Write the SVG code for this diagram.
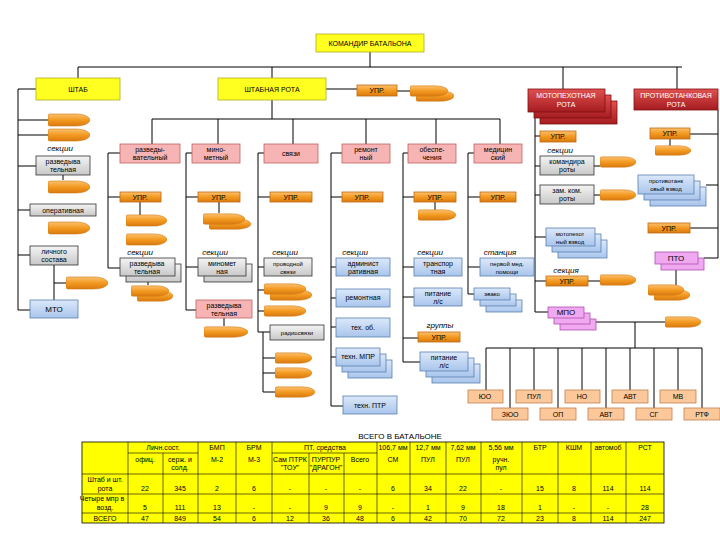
<svg xmlns="http://www.w3.org/2000/svg" width="720" height="540" viewBox="0 0 720 540">
<defs>
<linearGradient id="og" x1="0" y1="0" x2="0" y2="1"><stop offset="0" stop-color="#fcc070"/><stop offset="0.5" stop-color="#f39a20"/><stop offset="1" stop-color="#d97a10"/></linearGradient>
<linearGradient id="gg" x1="0" y1="0" x2="0" y2="1"><stop offset="0" stop-color="#f4f4f4"/><stop offset="1" stop-color="#c8c8c8"/></linearGradient>
<linearGradient id="bg" x1="0" y1="0" x2="0" y2="1"><stop offset="0" stop-color="#dbe8fa"/><stop offset="1" stop-color="#a9c5ec"/></linearGradient>
<linearGradient id="rg" x1="0" y1="0" x2="0" y2="1"><stop offset="0" stop-color="#e05050"/><stop offset="1" stop-color="#a51c20"/></linearGradient>
<symbol id="bl" viewBox="0 0 42 14" preserveAspectRatio="none"><path d="M2,1 H28 C38,1 42,5 42,7 C42,9 38,13 28,13 H2 Q0,13 0,11 V3 Q0,1 2,1Z" fill="url(#og)" stroke="#d07a15" stroke-width="0.6"/></symbol>
</defs>
<style>
text{font-family:"Liberation Sans",Arial,sans-serif;font-size:7px;text-anchor:middle;fill:#000}
.i{font-style:italic;font-size:8px}
.w{fill:#fff}
rect{stroke-width:0.8}
.y{fill:#ffff20;stroke:#b0b020}
.p{fill:#f7b4b4;stroke:#c06060}
.g{fill:url(#gg);stroke:#333}
.b{fill:url(#bg);stroke:#5a7fb0}
.r{fill:url(#rg);stroke:#801010}
.m{fill:#f0a8f0;stroke:#b050b0}
.o{fill:url(#og);stroke:#c06a10}
.t{fill:#fcc89a;stroke:#c08050}
.ln{fill:none;stroke:#000;stroke-width:1}
.tb{fill:#ffff00;stroke:#000;stroke-width:0.8}
.tl{stroke:#000;stroke-width:0.6}
</style>
<rect width="720" height="540" fill="#fff"/>
<g id="connectors" class="ln">
<path d="M370,52V67M78,67H682M78,67V78M272,67V78M563,67V89M677,67V89"/>
<path d="M36,89H18V310H30M18,120H48M18,135H48M18,166H36M18,210H30M18,255H30M63,175V180M54,265V300M54,283H66"/>
<path d="M326,89H357M397,91H410M272,100V119M152,119H500M152,119V144M218,119V144M293,119V144M366,119V144M436,119V144M500,119V144"/>
<path d="M120,153H108V268H120M108,197H120M140,202V215M148,276V285"/>
<path d="M192,153H186V310H196M186,197H198M186,267H198M219,202V213M224,318V326"/>
<path d="M264,153H258V332H270M258,197H270M258,267H264M258,290H264M258,311H264M263,332V392H275M263,358H275M263,373H275"/>
<path d="M342,153H331V406H343M331,197H342M331,267H336M331,298H336M331,327H336M331,357H336"/>
<path d="M408,153H403V362H420M403,197H414M403,267H414M403,297H414M403,338H418M435,202V210"/>
<path d="M474,153H468V294H474M468,197H480M468,267H480"/>
<path d="M540,112H535V312H548M535,136H540M535,166H540M535,195H540M535,237H546M535,281H546M594,166H600M594,195H600M588,281H600M596,322H665M635,322V348M486,348H702M486,348V390M534,348V390M582,348V390M630,348V390M678,348V390M510,348V408M558,348V408M606,348V408M654,348V408M702,348V408"/>
<path d="M718,110V258H704M690,134H718M690,228H718M706,185H718M670,139V150M676,264V285"/>
</g>
<g id="n-kombat"><rect class="y" x="316" y="34" width="108" height="18"/><text x="370" y="46">КОМАНДИР БАТАЛЬОНА</text></g>
<g id="n-shtab"><rect class="y" x="36" y="78" width="84" height="22"/><text x="78" y="92">ШТАБ</text></g>
<g id="n-shtabrota"><rect class="y" x="218" y="78" width="108" height="22"/><text x="272" y="92">ШТАБНАЯ РОТА</text></g>
<g id="n-upr0"><rect class="o" x="357" y="85" width="40" height="11"/><text x="377" y="93">УПР.</text><use href="#bl" x="416" y="90" width="38" height="12"/><use href="#bl" x="410" y="85" width="38" height="12"/></g>
<g id="n-mpr"><rect class="r" x="540" y="101" width="77" height="23"/><rect class="r" x="534" y="95" width="77" height="23"/><rect class="r" x="528" y="89" width="77" height="23"/><text class="w" x="566" y="98">МОТОПЕХОТНАЯ</text><text class="w" x="566" y="107">РОТА</text></g>
<g id="n-ptr"><rect class="r" x="634" y="89" width="84" height="21"/><text class="w" x="676" y="98">ПРОТИВОТАНКОВАЯ</text><text class="w" x="676" y="107">РОТА</text></g>
<g id="col0">
<use href="#bl" x="48" y="113" width="42" height="14"/><use href="#bl" x="48" y="128" width="42" height="14"/>
<text class="i" x="60" y="151">секции</text>
<rect class="g" x="36" y="156" width="54" height="19"/><text x="63" y="164">разведыва</text><text x="63" y="172">тельная</text>
<use href="#bl" x="48" y="180" width="42" height="14"/>
<rect class="g" x="30" y="204" width="66" height="12"/><text x="63" y="213">оперативная</text>
<use href="#bl" x="48" y="221" width="42" height="14"/>
<rect class="g" x="30" y="246" width="48" height="19"/><text x="54" y="254">личного</text><text x="54" y="262">состава</text>
<use href="#bl" x="66" y="276" width="42" height="14"/>
<rect class="b" x="30" y="300" width="48" height="18"/><text x="54" y="312" style="font-size:8px">МТО</text>
</g>
<g id="col1">
<rect class="p" x="120" y="144" width="60" height="19"/><text x="150" y="152">разведы-</text><text x="150" y="160">вательный</text>
<rect class="o" x="120" y="192" width="41" height="10"/><text x="140" y="200">УПР.</text>
<use href="#bl" x="126" y="214" width="41" height="13"/><use href="#bl" x="126" y="233" width="41" height="13"/>
<text class="i" x="140" y="255">секции</text>
<rect class="g" x="126" y="264" width="55" height="18"/><rect class="g" x="120" y="258" width="55" height="18"/><text x="147" y="266">разведыва</text><text x="147" y="274">тельная</text>
<use href="#bl" x="137" y="290" width="36" height="12"/><use href="#bl" x="131" y="285" width="38" height="12"/>
</g>
<g id="col2">
<rect class="p" x="192" y="144" width="48" height="19"/><text x="216" y="152">мино-</text><text x="216" y="160">метный</text>
<rect class="o" x="198" y="192" width="42" height="10"/><text x="219" y="200">УПР.</text>
<use href="#bl" x="209" y="218" width="42" height="12"/><use href="#bl" x="203" y="213" width="42" height="12"/>
<text class="i" x="215" y="255">секции</text>
<rect class="g" x="204" y="264" width="48" height="18"/><rect class="g" x="198" y="258" width="48" height="18"/><text x="222" y="266">миномет</text><text x="222" y="274">ная</text>
<rect class="p" x="196" y="300" width="56" height="18"/><text x="224" y="308">разведыва</text><text x="224" y="316">тельная</text>
<use href="#bl" x="204" y="326" width="44" height="12"/>
</g>
<g id="col3">
<rect class="p" x="264" y="144" width="54" height="19"/><text x="291" y="156">связи</text>
<rect class="o" x="270" y="192" width="42" height="10"/><text x="291" y="200">УПР.</text>
<text class="i" x="285" y="255">секции</text>
<rect class="g" x="264" y="258" width="48" height="18"/><text x="288" y="266" style="font-size:6px">проводной</text><text x="288" y="274" style="font-size:6px">связи</text>
<use href="#bl" x="270" y="289" width="42" height="12"/><use href="#bl" x="264" y="283" width="42" height="12"/>
<use href="#bl" x="264" y="305" width="42" height="12"/>
<rect class="g" x="270" y="325" width="54" height="15"/><text x="297" y="335" style="font-size:6px">радиосвязи</text>
<use href="#bl" x="275" y="352" width="37" height="12"/><use href="#bl" x="275" y="367" width="37" height="12"/><use href="#bl" x="275" y="386" width="40" height="12"/>
</g>
<g id="col4">
<rect class="p" x="342" y="144" width="48" height="19"/><text x="366" y="152">ремонт</text><text x="366" y="160">ный</text>
<rect class="o" x="342" y="192" width="41" height="10"/><text x="362" y="200">УПР.</text>
<text class="i" x="355" y="255">секции</text>
<rect class="b" x="336" y="258" width="54" height="18"/><text x="363" y="266">админист</text><text x="363" y="274">ративная</text>
<rect class="b" x="336" y="289" width="54" height="18"/><text x="363" y="300">ремонтная</text>
<rect class="b" x="336" y="318" width="54" height="19"/><text x="363" y="330">тех. об.</text>
<rect class="b" x="348" y="360" width="44" height="18"/><rect class="b" x="342" y="354" width="44" height="18"/><rect class="b" x="336" y="348" width="44" height="18"/><text x="358" y="359">техн. МПР</text>
<rect class="b" x="343" y="396" width="54" height="18"/><text x="370" y="408">техн. ПТР</text>
</g>
<g id="col5">
<rect class="p" x="408" y="144" width="48" height="19"/><text x="432" y="152">обеспе-</text><text x="432" y="160">чения</text>
<rect class="o" x="414" y="192" width="42" height="10"/><text x="435" y="200">УПР.</text>
<use href="#bl" x="418" y="209" width="38" height="12"/>
<text class="i" x="430" y="255">секции</text>
<rect class="b" x="414" y="258" width="48" height="18"/><text x="438" y="266">транспор</text><text x="438" y="274">тная</text>
<rect class="b" x="414" y="288" width="48" height="18"/><text x="438" y="296">питание</text><text x="438" y="304">л/с</text>
<text class="i" x="440" y="328">группы</text>
<rect class="o" x="418" y="332" width="42" height="10"/><text x="439" y="340">УПР.</text>
<rect class="b" x="432" y="364" width="48" height="19"/><rect class="b" x="426" y="358" width="48" height="19"/><rect class="b" x="420" y="352" width="48" height="19"/><text x="444" y="360">питание</text><text x="444" y="368">л/с</text>
</g>
<g id="col6">
<rect class="p" x="474" y="144" width="48" height="19"/><text x="498" y="152">медицин</text><text x="498" y="160">ский</text>
<rect class="o" x="480" y="192" width="36" height="10"/><text x="498" y="200">УПР.</text>
<text class="i" x="500" y="255">станция</text>
<rect class="b" x="480" y="258" width="54" height="18"/><text x="507" y="266" style="font-size:6px">первой мед.</text><text x="507" y="274" style="font-size:6px">помощи</text>
<rect class="b" x="486" y="300" width="36" height="12"/><rect class="b" x="480" y="294" width="36" height="12"/><rect class="b" x="474" y="288" width="36" height="12"/><text x="492" y="296" style="font-size:6px">эвако</text>
</g>
<g id="col-mpr">
<rect class="o" x="540" y="131" width="36" height="11"/><text x="558" y="139">УПР.</text>
<text class="i" x="560" y="153">секции</text>
<rect class="g" x="540" y="156" width="54" height="19"/><text x="567" y="164">командира</text><text x="567" y="172">роты</text>
<use href="#bl" x="600" y="156" width="36" height="12"/>
<rect class="g" x="540" y="185" width="54" height="19"/><text x="567" y="193">зам. ком.</text><text x="567" y="201">роты</text>
<use href="#bl" x="600" y="189" width="36" height="12"/>
<rect class="b" x="558" y="240" width="49" height="18"/><rect class="b" x="552" y="234" width="49" height="18"/><rect class="b" x="546" y="228" width="49" height="18"/><text x="570" y="236" style="font-size:6px">мотопехот</text><text x="570" y="244" style="font-size:6px">ный взвод</text>
<text class="i" x="566" y="273">секция</text>
<rect class="o" x="546" y="276" width="42" height="10"/><text x="567" y="284">УПР.</text>
<use href="#bl" x="600" y="274" width="36" height="12"/>
<rect class="m" x="560" y="319" width="36" height="11"/><rect class="m" x="554" y="313" width="36" height="11"/><rect class="m" x="548" y="307" width="36" height="11"/><text x="566" y="315" style="font-size:8px">МПО</text>
<use href="#bl" x="665" y="316" width="36" height="12"/>
</g>
<g id="col-ptr">
<rect class="o" x="650" y="128" width="40" height="11"/><text x="670" y="136">УПР.</text>
<use href="#bl" x="655" y="145" width="36" height="11"/>
<rect class="b" x="650" y="187" width="56" height="19"/><rect class="b" x="644" y="181" width="56" height="19"/><rect class="b" x="638" y="175" width="56" height="19"/><text x="666" y="183" style="font-size:6px">противотанк</text><text x="666" y="191" style="font-size:6px">овый взвод</text>
<rect class="o" x="648" y="223" width="42" height="10"/><text x="669" y="231">УПР.</text>
<rect class="m" x="661" y="258" width="43" height="12"/><rect class="m" x="655" y="252" width="43" height="12"/><text x="676" y="261" style="font-size:8px">ПТО</text>
<use href="#bl" x="654" y="289" width="36" height="12"/><use href="#bl" x="648" y="284" width="36" height="12"/>
</g>
<g id="mpo-units">
<rect class="t" x="468" y="390" width="35" height="13"/><text x="485" y="399">ЮО</text>
<rect class="t" x="516" y="390" width="36" height="13"/><text x="534" y="399">ПУЛ</text>
<rect class="t" x="565" y="390" width="35" height="13"/><text x="582" y="399">НО</text>
<rect class="t" x="612" y="390" width="36" height="13"/><text x="630" y="399">АВТ</text>
<rect class="t" x="660" y="390" width="36" height="13"/><text x="678" y="399">МВ</text>
<rect class="t" x="492" y="408" width="36" height="12"/><text x="510" y="417">ЗЮО</text>
<rect class="t" x="540" y="408" width="36" height="12"/><text x="558" y="417">ОП</text>
<rect class="t" x="588" y="408" width="36" height="12"/><text x="606" y="417">АВТ</text>
<rect class="t" x="636" y="408" width="36" height="12"/><text x="654" y="417">СГ</text>
<rect class="t" x="684" y="408" width="36" height="12"/><text x="702" y="417">РТФ</text>
</g>
<g id="table">
<text x="400" y="439" style="font-size:8px">ВСЕГО  В БАТАЛЬОНЕ</text>
<rect class="tb" x="82" y="442" width="582" height="81"/>
<g class="tl">
<line x1="82" y1="474" x2="664" y2="474"/><line x1="82" y1="494" x2="664" y2="494"/><line x1="82" y1="513" x2="664" y2="513"/>
<line x1="128" y1="453" x2="198" y2="453"/><line x1="272" y1="453" x2="377" y2="453"/>
<line x1="128" y1="442" x2="128" y2="523"/><line x1="163" y1="453" x2="163" y2="523"/><line x1="198" y1="442" x2="198" y2="523"/><line x1="236" y1="442" x2="236" y2="523"/><line x1="272" y1="442" x2="272" y2="523"/><line x1="309" y1="453" x2="309" y2="523"/><line x1="344" y1="453" x2="344" y2="523"/><line x1="377" y1="442" x2="377" y2="523"/><line x1="410" y1="442" x2="410" y2="523"/><line x1="446" y1="442" x2="446" y2="523"/><line x1="481" y1="442" x2="481" y2="523"/><line x1="522" y1="442" x2="522" y2="523"/><line x1="558" y1="442" x2="558" y2="523"/><line x1="591" y1="442" x2="591" y2="523"/><line x1="626" y1="442" x2="626" y2="523"/>
</g>
<g style="font-size:6.5px">
<text x="163" y="450">Личн.сост.</text><text x="145" y="462">офиц.</text><text x="180" y="462">серж. и</text><text x="180" y="470">солд.</text>
<text x="217" y="450">БМП</text><text x="217" y="462">М-2</text><text x="254" y="450">БРМ</text><text x="254" y="462">М-3</text>
<text x="325" y="450">ПТ. средства</text><text x="290" y="462">Сам ПТРК</text><text x="290" y="470">"ТОУ"</text><text x="326" y="462">ПУРПУР</text><text x="326" y="470">"ДРАГОН"</text><text x="360" y="462">Всего</text>
<text x="393" y="450">106,7 мм</text><text x="393" y="462">СМ</text><text x="428" y="450">12,7 мм</text><text x="428" y="462">ПУЛ</text><text x="463" y="450">7,62 мм</text><text x="463" y="462">ПУЛ</text><text x="501" y="450">5,56 мм</text><text x="501" y="462">ручн.</text><text x="501" y="470">пул</text>
<text x="540" y="450">БТР</text><text x="574" y="450">КШМ</text><text x="608" y="450">автомоб</text><text x="645" y="450">РСТ</text>
<text x="105" y="482">Штаб и шт.</text><text x="105" y="491">рота</text><text x="102" y="501">Четыре мпр в</text><text x="105" y="510">возд.</text><text x="105" y="521">ВСЕГО</text>
</g>
<g style="font-size:7px">
<text x="145" y="491">22</text><text x="180" y="491">345</text><text x="217" y="491">2</text><text x="254" y="491">6</text><text x="290" y="491">-</text><text x="326" y="491">-</text><text x="360" y="491">-</text><text x="393" y="491">6</text><text x="428" y="491">34</text><text x="463" y="491">22</text><text x="501" y="491">-</text><text x="540" y="491">15</text><text x="574" y="491">8</text><text x="608" y="491">114</text><text x="645" y="491">114</text>
<text x="145" y="510">5</text><text x="180" y="510">111</text><text x="217" y="510">13</text><text x="254" y="510">-</text><text x="290" y="510">-</text><text x="326" y="510">9</text><text x="360" y="510">9</text><text x="393" y="510">-</text><text x="428" y="510">1</text><text x="463" y="510">9</text><text x="501" y="510">18</text><text x="540" y="510">1</text><text x="574" y="510">-</text><text x="608" y="510">-</text><text x="645" y="510">28</text>
<text x="145" y="521">47</text><text x="180" y="521">849</text><text x="217" y="521">54</text><text x="254" y="521">6</text><text x="290" y="521">12</text><text x="326" y="521">36</text><text x="360" y="521">48</text><text x="393" y="521">6</text><text x="428" y="521">42</text><text x="463" y="521">70</text><text x="501" y="521">72</text><text x="540" y="521">23</text><text x="574" y="521">8</text><text x="608" y="521">114</text><text x="645" y="521">247</text>
</g>
</g>
</svg>
